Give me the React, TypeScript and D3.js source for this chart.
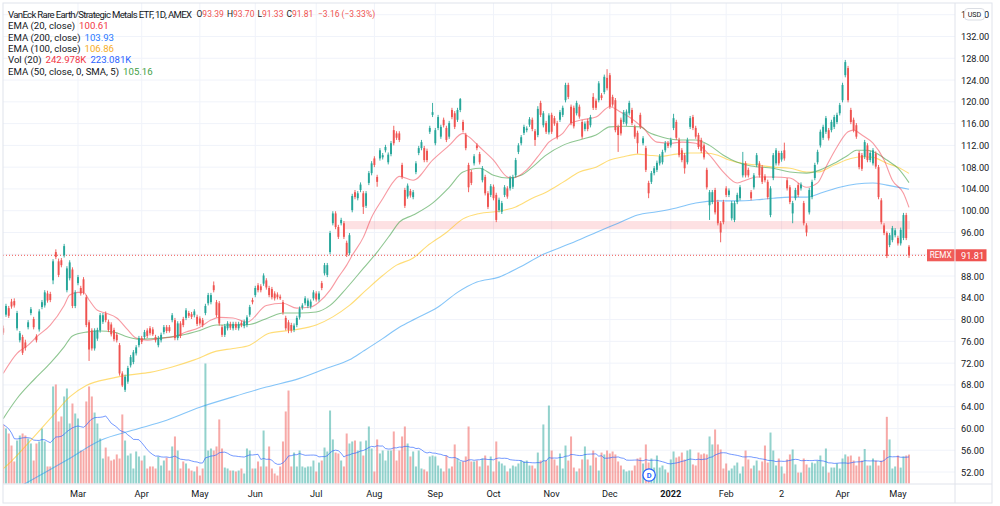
import React from "react";
import * as d3 from "d3";

// REMX daily bars, Jan 2021 – May 2022
const opens = [
  78.4, 80.9, 82.1, 83.3, 83.4, 78.4, 76.2, 76.8, 75.8, 78.6, 81.2, 80.1, 76.9, 78.2, 82.3, 82.6, 84.8, 84.7, 87.2, 92.4,
  90.7, 90.9, 91.8, 85.4, 87.6, 89.2, 82.5, 86.7, 85.8, 87.4, 84.1, 79.5, 78.0, 74.7, 76.5, 78.0, 79.6, 81.1, 79.6, 79.1,
  78.1, 77.2, 75.3, 70.1, 67.1, 68.6, 71.6, 72.2, 73.8, 75.3, 76.6, 76.8, 78.0, 78.4, 78.2, 76.8, 75.3, 76.2, 77.7, 78.6,
  78.6, 79.9, 79.9, 76.6, 79.3, 80.1, 80.3, 81.2, 81.0, 80.8, 80.5, 80.2, 79.9, 81.2, 83.0, 83.2, 86.3, 83.2, 83.0, 78.6,
  77.2, 78.4, 79.2, 78.4, 79.2, 78.4, 79.4, 78.8, 79.0, 80.9, 83.6, 84.5, 86.3, 86.1, 86.6, 87.2, 85.8, 85.6, 84.8, 84.6,
  84.2, 83.2, 80.3, 79.5, 79.0, 78.1, 79.0, 80.4, 82.2, 83.0, 82.5, 82.4, 83.9, 84.8, 83.7, 86.7, 88.5, 88.2, 92.4, 97.7,
  99.5, 97.0, 97.7, 97.7, 94.1, 92.2, 100.1, 103.4, 102.3, 103.8, 103.2, 100.9, 105.1, 106.9, 109.6, 106.2, 109.6, 109.8, 111.1, 108.9,
  110.4, 114.8, 114.2, 114.2, 108.4, 103.8, 102.6, 103.6, 102.5, 107.1, 110.6, 111.5, 111.5, 111.0, 114.5, 117.6, 112.4, 115.2, 113.6, 116.7,
  115.2, 113.6, 118.5, 117.9, 116.7, 118.5, 116.3, 113.9, 108.4, 107.1, 108.7, 112.0, 110.4, 105.6, 106.2, 103.2, 102.9, 104.4, 102.9, 100.1,
  99.8, 102.9, 104.1, 104.1, 104.4, 106.5, 110.8, 112.4, 114.3, 114.8, 115.8, 116.7, 114.6, 113.9, 119.8, 115.7, 116.1, 114.4, 117.6, 117.0,
  116.1, 116.7, 117.6, 120.3, 123.1, 119.1, 118.9, 117.9, 119.1, 116.3, 115.0, 116.5, 115.7, 120.9, 120.2, 120.3, 121.2, 121.8, 124.4, 124.9,
  120.9, 120.3, 115.4, 116.7, 116.3, 116.0, 117.9, 118.5, 115.4, 114.3, 117.6, 112.4, 111.5, 105.1, 105.3, 106.9, 107.5, 108.7, 108.9, 111.1,
  112.4, 112.0, 115.2, 116.3, 113.0, 111.1, 110.2, 108.9, 115.4, 117.2, 115.2, 113.9, 113.0, 112.0, 107.5, 101.0, 101.6, 103.8, 101.6, 97.7,
  101.6, 104.1, 102.9, 98.6, 98.3, 101.6, 102.3, 106.5, 108.7, 107.5, 103.4, 104.3, 108.4, 108.7, 108.0, 106.3, 105.3, 99.2, 106.0, 108.7,
  110.6, 109.4, 111.1, 105.6, 104.3, 99.5, 102.3, 104.7, 104.1, 101.4, 97.3, 99.7, 102.5, 106.0, 108.9, 112.0, 113.4, 114.5, 114.8, 114.8,
  115.4, 116.3, 117.9, 120.3, 124.9, 126.2, 118.5, 116.7, 115.7, 110.6, 110.2, 109.9, 112.0, 109.3, 108.7, 110.5, 108.0, 101.9, 97.3, 95.9,
  93.7, 94.6, 95.5, 95.0, 94.0, 95.0, 99.2, 93.39,
];
const highs = [
  78.9, 82.9, 82.5, 83.8, 83.9, 81.6, 77.9, 77.2, 76.3, 79.9, 82.3, 80.5, 77.3, 81.9, 83.6, 85.4, 85.3, 85.1, 91.1, 92.9,
  91.2, 91.3, 93.9, 89.8, 90.9, 89.6, 85.4, 88.2, 86.2, 87.8, 84.5, 79.9, 78.4, 78.4, 78.5, 81.2, 81.2, 81.5, 80.0, 79.5,
  78.5, 77.6, 75.7, 70.5, 69.9, 71.5, 73.5, 74.4, 75.3, 77.0, 77.0, 78.1, 78.4, 78.8, 78.6, 77.2, 77.0, 77.6, 79.0, 79.0,
  79.0, 81.2, 80.3, 79.7, 79.7, 80.5, 82.1, 81.6, 81.4, 81.9, 80.9, 80.6, 80.3, 82.9, 84.9, 84.9, 87.0, 83.6, 83.4, 79.0,
  79.2, 79.7, 79.6, 79.6, 79.6, 79.6, 79.8, 80.0, 80.8, 82.7, 84.0, 86.2, 86.7, 86.5, 88.5, 87.6, 86.2, 86.0, 85.2, 85.0,
  84.6, 83.6, 80.7, 79.9, 79.4, 79.3, 80.7, 82.4, 83.0, 84.3, 83.9, 83.7, 85.4, 85.2, 85.2, 87.1, 90.4, 90.4, 96.3, 99.9,
  99.9, 97.4, 98.7, 98.1, 94.5, 95.9, 103.1, 103.8, 103.6, 105.2, 103.6, 103.6, 107.3, 109.1, 110.0, 106.6, 111.5, 110.6, 112.1, 110.7,
  112.8, 115.6, 114.6, 114.6, 108.8, 104.2, 105.0, 104.0, 103.8, 109.1, 111.9, 113.0, 111.9, 111.4, 115.6, 119.8, 115.2, 117.6, 115.8, 117.1,
  115.6, 116.5, 118.9, 118.3, 118.9, 120.7, 116.7, 114.3, 108.8, 107.5, 110.4, 112.4, 110.8, 108.2, 106.6, 103.6, 104.9, 104.8, 103.3, 102.4,
  101.8, 104.7, 104.5, 106.4, 106.6, 109.7, 112.4, 113.9, 115.8, 115.5, 117.2, 117.1, 115.0, 119.2, 120.2, 118.3, 116.5, 117.9, 118.0, 117.4,
  116.5, 118.5, 119.3, 123.5, 123.5, 119.5, 119.3, 120.2, 119.5, 116.7, 116.4, 116.9, 117.6, 121.6, 120.6, 123.8, 121.6, 125.0, 126.0, 125.3,
  121.3, 120.7, 115.8, 117.1, 118.5, 118.6, 120.2, 118.9, 115.8, 114.7, 118.0, 113.7, 111.9, 105.5, 107.3, 108.2, 109.2, 110.4, 111.2, 112.8,
  112.8, 113.4, 117.8, 116.7, 113.4, 111.5, 110.6, 113.4, 117.4, 117.6, 115.6, 114.3, 113.4, 112.4, 107.9, 103.8, 103.8, 104.2, 102.0, 98.1,
  102.0, 104.5, 104.1, 101.8, 101.8, 103.3, 104.7, 110.8, 109.1, 107.9, 103.8, 106.9, 110.6, 109.1, 108.4, 106.7, 105.7, 104.5, 110.6, 111.5,
  111.0, 111.0, 112.5, 106.0, 104.7, 101.8, 104.2, 105.1, 105.2, 101.8, 97.7, 104.2, 105.7, 108.8, 111.2, 114.9, 115.8, 117.4, 115.2, 116.7,
  117.6, 118.0, 119.8, 123.5, 127.7, 126.6, 118.9, 117.1, 116.1, 111.0, 110.6, 113.0, 112.4, 111.0, 111.5, 110.9, 108.4, 102.3, 97.7, 96.2,
  95.9, 97.2, 96.8, 95.4, 96.9, 99.6, 99.6, 93.70,
];
const lows = [
  77.2, 80.5, 80.3, 82.0, 82.2, 78.0, 75.8, 73.5, 74.3, 78.2, 80.8, 78.2, 75.8, 77.8, 81.9, 82.2, 83.1, 83.2, 86.5, 91.1,
  87.8, 89.6, 91.4, 85.0, 87.2, 82.1, 82.1, 86.3, 84.4, 84.6, 78.6, 72.4, 74.3, 74.3, 76.1, 77.6, 79.2, 79.5, 77.7, 76.9,
  76.0, 75.8, 69.7, 67.6, 66.7, 68.2, 71.2, 71.8, 73.4, 74.9, 75.5, 76.4, 76.6, 77.1, 77.0, 75.8, 74.9, 75.8, 77.3, 77.5,
  77.6, 79.5, 76.2, 76.2, 76.6, 78.6, 79.9, 80.3, 80.1, 80.4, 78.8, 78.9, 78.6, 80.8, 82.6, 82.8, 85.0, 80.4, 78.9, 76.8,
  76.8, 78.0, 78.1, 78.0, 78.1, 78.0, 78.6, 78.4, 78.6, 80.5, 82.8, 84.1, 85.0, 85.0, 86.2, 85.5, 84.1, 83.7, 83.5, 83.7,
  83.6, 80.9, 78.0, 77.5, 77.6, 77.7, 78.6, 80.0, 81.8, 82.6, 82.1, 82.0, 83.5, 83.3, 83.3, 85.4, 88.1, 87.8, 92.0, 97.3,
  96.6, 94.8, 97.3, 94.8, 91.5, 91.8, 99.7, 102.1, 101.9, 103.4, 99.4, 100.5, 104.7, 106.5, 108.0, 104.4, 109.2, 109.4, 110.7, 108.5,
  110.0, 112.0, 113.0, 112.6, 105.8, 100.5, 102.2, 102.4, 102.1, 106.7, 110.2, 111.1, 108.9, 108.9, 114.1, 117.2, 112.0, 114.8, 113.2, 115.3,
  112.6, 113.2, 116.8, 115.0, 116.3, 118.1, 114.4, 111.1, 103.4, 104.7, 108.3, 111.1, 108.5, 105.2, 102.8, 100.3, 102.5, 101.9, 97.9, 99.7,
  99.4, 102.5, 102.2, 103.7, 104.0, 106.1, 110.4, 112.0, 113.9, 114.4, 115.4, 114.6, 111.9, 113.5, 117.2, 115.3, 114.1, 114.0, 114.1, 115.6,
  113.1, 116.3, 117.2, 119.9, 120.5, 115.7, 115.1, 117.5, 116.9, 113.2, 114.6, 114.6, 115.3, 118.5, 118.5, 119.9, 120.3, 121.4, 122.1, 118.7,
  119.1, 114.4, 110.8, 113.8, 115.9, 115.6, 117.5, 115.7, 113.2, 110.5, 115.0, 112.0, 107.1, 102.3, 104.9, 106.5, 107.1, 108.3, 108.5, 110.7,
  111.5, 111.6, 114.8, 113.0, 109.8, 108.9, 106.8, 108.5, 115.0, 114.8, 113.2, 111.3, 110.6, 109.4, 103.9, 98.3, 101.2, 99.3, 97.3, 94.2,
  97.5, 102.5, 102.5, 98.2, 97.9, 101.2, 101.9, 106.1, 106.1, 106.1, 101.9, 103.9, 108.0, 106.1, 104.9, 105.2, 102.1, 98.8, 105.6, 108.3,
  108.3, 109.0, 109.2, 103.7, 101.2, 97.7, 101.9, 102.5, 103.7, 97.3, 95.3, 99.3, 102.1, 105.6, 108.5, 111.6, 113.0, 114.1, 112.9, 114.4,
  115.0, 115.9, 117.5, 119.9, 124.5, 119.9, 115.9, 114.4, 113.2, 107.6, 107.3, 109.5, 108.9, 108.9, 108.3, 107.7, 102.1, 97.5, 95.5, 91.3,
  93.3, 94.2, 95.1, 93.6, 93.6, 94.6, 94.6, 91.33,
];
const closes = [
  77.6, 82.5, 80.7, 82.4, 82.6, 81.2, 77.5, 73.9, 74.8, 79.5, 81.9, 78.6, 76.2, 81.5, 83.2, 85.0, 83.5, 83.6, 90.7, 91.5,
  88.2, 90.0, 93.5, 89.4, 90.5, 82.5, 85.0, 87.8, 84.8, 85.0, 79.0, 74.5, 74.7, 78.0, 78.1, 80.8, 80.8, 79.9, 78.1, 77.3,
  76.4, 76.2, 70.1, 67.9, 69.5, 71.1, 73.1, 74.0, 74.9, 76.6, 75.9, 77.7, 77.0, 77.5, 77.3, 76.2, 76.6, 77.2, 78.6, 77.9,
  77.9, 80.8, 76.6, 79.3, 77.0, 79.0, 81.7, 80.7, 80.5, 81.5, 79.2, 79.3, 79.0, 82.5, 84.5, 84.5, 85.4, 80.8, 79.3, 77.2,
  78.8, 79.3, 78.5, 79.2, 78.5, 79.2, 79.0, 79.6, 80.4, 82.3, 83.2, 85.8, 85.4, 85.4, 88.1, 85.9, 84.5, 84.1, 83.9, 84.1,
  83.9, 81.3, 78.4, 78.1, 78.0, 78.9, 80.3, 82.0, 82.6, 83.9, 83.5, 83.3, 85.0, 83.7, 84.8, 85.8, 90.0, 90.0, 95.9, 99.5,
  97.0, 95.2, 98.3, 95.2, 91.9, 95.5, 102.7, 102.5, 103.2, 104.8, 100.7, 103.2, 106.9, 108.7, 108.4, 105.3, 111.1, 110.2, 111.7, 110.3,
  112.4, 112.4, 113.4, 113.0, 106.2, 100.9, 104.6, 102.8, 103.4, 108.7, 111.5, 112.6, 109.3, 109.3, 115.2, 118.1, 114.8, 117.2, 115.4, 115.7,
  113.0, 116.1, 117.2, 115.4, 118.5, 120.5, 114.8, 111.5, 104.3, 105.1, 110.0, 111.5, 108.9, 107.8, 103.2, 100.7, 104.5, 102.3, 98.3, 102.0,
  101.4, 104.3, 102.6, 106.0, 106.2, 109.3, 112.0, 113.5, 115.4, 115.1, 116.8, 115.0, 113.0, 118.7, 117.6, 117.9, 114.5, 117.5, 114.5, 116.0,
  113.5, 118.1, 118.9, 123.1, 120.9, 116.1, 115.5, 119.8, 117.3, 113.6, 116.0, 115.0, 117.2, 118.9, 118.9, 123.4, 120.7, 124.6, 122.5, 119.1,
  119.5, 114.8, 113.9, 114.2, 118.1, 118.2, 119.8, 116.1, 113.6, 112.4, 115.4, 113.3, 107.5, 103.2, 106.9, 107.8, 108.8, 110.0, 110.8, 112.4,
  111.9, 113.0, 117.0, 113.4, 110.2, 109.3, 107.8, 113.0, 117.0, 115.2, 113.6, 111.7, 111.0, 109.8, 104.3, 103.4, 103.4, 99.7, 97.7, 96.0,
  97.9, 102.9, 103.7, 101.4, 101.4, 102.9, 104.3, 108.7, 106.5, 106.5, 102.3, 106.5, 110.2, 106.5, 105.3, 105.6, 102.5, 104.1, 110.2, 111.1,
  108.7, 110.6, 109.6, 104.1, 101.6, 101.4, 103.8, 102.9, 104.8, 97.7, 96.0, 103.8, 105.3, 108.4, 110.8, 114.5, 115.4, 117.0, 113.3, 116.3,
  117.2, 117.6, 119.4, 123.1, 127.3, 120.3, 116.3, 114.8, 113.6, 108.0, 107.7, 112.6, 109.3, 110.6, 111.1, 108.1, 102.5, 97.9, 95.9, 91.7,
  95.5, 96.8, 96.4, 94.0, 96.5, 99.2, 94.97, 91.81,
];
// Daily volume, thousands of shares
const volumes = [
  496, 462, 420, 319, 185, 361, 403, 420, 403, 378, 336, 193, 336, 353, 462, 353, 143, 143, 815, 832,
  521, 563, 731, 798, 504, 672, 588, 546, 277, 277, 689, 815, 731, 596, 504, 378, 210, 302, 227, 193,
  202, 244, 210, 580, 361, 235, 252, 126, 269, 227, 193, 235, 126, 143, 143, 126, 227, 151, 193, 218,
  109, 311, 395, 277, 126, 185, 168, 126, 109, 101, 143, 67, 126, 1008, 277, 294, 277, 311, 538, 294,
  134, 126, 109, 109, 101, 109, 126, 84, 294, 277, 126, 126, 185, 143, 445, 143, 311, 126, 84, 67,
  143, 353, 605, 781, 143, 260, 143, 277, 143, 134, 143, 143, 193, 101, 176, 193, 302, 269, 613, 370,
  260, 252, 193, 143, 420, 336, 353, 361, 277, 353, 235, 361, 479, 294, 101, 370, 252, 277, 193, 277,
  277, 437, 193, 277, 395, 479, 336, 227, 269, 143, 277, 126, 118, 101, 227, 235, 227, 151, 126, 101,
  235, 126, 143, 328, 210, 185, 185, 227, 479, 185, 185, 193, 143, 210, 235, 151, 227, 101, 353, 185,
  168, 151, 101, 126, 151, 143, 168, 193, 185, 193, 151, 151, 126, 260, 193, 496, 193, 655, 277, 202,
  151, 252, 126, 319, 193, 395, 134, 101, 126, 202, 311, 202, 151, 277, 218, 109, 260, 244, 277, 252,
  269, 244, 185, 151, 118, 101, 109, 109, 151, 210, 218, 168, 328, 176, 210, 134, 235, 134, 151, 118,
  92, 202, 269, 218, 227, 260, 202, 277, 286, 160, 151, 260, 244, 252, 244, 395, 328, 454, 328, 286,
  126, 168, 109, 126, 151, 176, 84, 143, 277, 202, 126, 151, 193, 109, 185, 319, 176, 428, 277, 151,
  210, 143, 84, 202, 244, 286, 160, 92, 92, 210, 160, 134, 176, 168, 193, 235, 143, 294, 92, 134,
  134, 168, 126, 210, 244, 227, 235, 193, 151, 226, 193, 290, 151, 151, 210, 193, 151, 193, 280, 560,
  370, 126, 143, 235, 133.64, 227, 235, 242.978,
];

const priceTicks = [52, 56, 60, 64, 68, 72, 76, 80, 84, 88, 92, 96, 100, 104, 108, 112, 116, 120, 124, 128, 132, 136];
const timeTickBars = [27, 50, 71, 91, 113, 134, 156, 177, 198, 219, 241, 261, 281, 303, 323];
const timeTickLabels = ["Mar", "Apr", "May", "Jun", "Jul", "Aug", "Sep", "Oct", "Nov", "Dec", "2022", "Feb", "2", "Apr", "May"];

// Moving averages: [bar index, value]
const ema20: [number, number][] = [
  [0, 70.1], [5, 73.8], [9, 75.3], [12, 76.8], [17, 79], [22, 82.6], [24, 84.5], [27, 85], [29, 85], [31, 83.6],
  [34, 81.7], [37, 81.2], [41, 80.3], [45, 78.1], [48, 76.6], [52, 76.2], [57, 76.6], [61, 76.8], [66, 77.7], [71, 78.6],
  [75, 79.9], [78, 80.4], [83, 80.3], [88, 79.5], [95, 82.6], [101, 83], [106, 82.1], [111, 82.3], [114, 83.2], [118, 85.4],
  [121, 87.8], [124, 90], [126, 91.8], [130, 95.1], [133, 98.8], [137, 102.2], [141, 105.4], [143, 106.3], [148, 105.6], [155, 109.3],
  [161, 112], [166, 114.2], [168, 113.6], [172, 111.7], [177, 109.3], [182, 106.2], [184, 106], [189, 107.5], [194, 110.6], [197, 112.6],
  [202, 114.2], [205, 116.1], [209, 116.7], [214, 117.2], [219, 119.1], [223, 118.1], [226, 117.2], [231, 115.2], [236, 112.6], [241, 112.4],
  [245, 112.6], [250, 112.4], [255, 110.2], [260, 107.1], [265, 105.1], [268, 105.6], [272, 106.2], [278, 106.2], [284, 106], [290, 104.3],
  [294, 105.1], [297, 108], [301, 111.7], [305, 114.5], [307, 114.8], [310, 113.9], [314, 112.4], [318, 109.3], [321, 105.6], [325, 103.2],
  [327, 100.61],
];
const ema50sma5: [number, number][] = [
  [0, 61.8], [5, 65.5], [11, 68.9], [17, 72], [22, 75], [25, 77], [30, 77.7], [35, 77.9], [40, 77.7], [45, 76.8],
  [49, 76.4], [57, 76.6], [64, 77.1], [71, 78], [77, 79], [83, 79], [89, 79.1], [96, 80.4], [101, 81.2], [107, 81.2],
  [113, 81.4], [118, 82.6], [124, 85.8], [130, 89.4], [135, 92.4], [140, 95.8], [143, 97.9], [148, 99.2], [155, 101.4], [161, 104.3],
  [166, 107.1], [172, 107.8], [177, 106.5], [182, 106], [187, 106.5], [191, 108], [196, 110.2], [202, 112], [208, 113], [214, 113.9],
  [219, 115.4], [224, 115.5], [230, 115.4], [233, 114.4], [238, 113.5], [244, 113], [250, 113], [255, 112], [260, 110.2], [265, 108.9],
  [270, 108.2], [278, 107.8], [284, 107.1], [290, 106.9], [295, 107.5], [300, 108.7], [305, 110.2], [308, 111.1], [312, 111.1], [315, 110.6],
  [319, 109.3], [323, 107.8], [327, 105.16],
];
const ema100: [number, number][] = [
  [0, 52.6], [3, 54], [11, 58.4], [18, 62.4], [24, 65.8], [30, 67.9], [39, 69.2], [45, 69.8], [53, 70.3], [61, 71.3],
  [69, 72.6], [77, 74.2], [83, 74.7], [89, 75.3], [96, 77.5], [105, 78.1], [113, 79], [119, 80.5], [125, 82.6], [131, 85.4],
  [137, 88.1], [142, 90], [148, 91.3], [153, 93.5], [160, 96], [166, 98.5], [172, 99.5], [179, 99.9], [185, 100.7], [191, 102.3],
  [196, 103.4], [202, 105.2], [208, 107.1], [214, 108], [219, 109.3], [224, 109.9], [229, 110.4], [233, 110.2], [238, 110], [243, 110.4],
  [248, 110.6], [253, 110.6], [258, 110.2], [262, 109.3], [267, 108.7], [272, 108.4], [278, 108], [284, 107.8], [290, 107.1], [294, 107.1],
  [300, 108.4], [306, 109.6], [310, 109.9], [314, 109.8], [319, 108.7], [323, 108], [327, 106.86],
];
const ema200: [number, number][] = [
  [0, 47.7], [8, 49.9], [23, 54.2], [35, 57.8], [47, 59.7], [59, 61.5], [71, 63.9], [83, 65.8], [95, 67.6], [107, 69.2],
  [117, 71.1], [125, 72.6], [130, 74.2], [137, 76.5], [143, 78.6], [149, 80.2], [157, 82.3], [164, 85], [171, 86.9], [179, 87.8],
  [186, 89.5], [195, 92], [205, 94], [214, 96], [222, 97.7], [229, 99.2], [236, 99.8], [243, 100.5], [250, 101.4], [258, 101.8],
  [265, 101.8], [272, 102], [278, 102.3], [284, 102.5], [290, 102.5], [296, 103.4], [302, 104.3], [308, 104.9], [314, 105.1], [319, 104.7],
  [327, 103.93],
];

// Support zone drawn on the chart: [start bar, end bar], [low, high]
const zoneBars = [123, 327];
const zonePrices = [96.6, 98.1];
const dividendBar = 233;

const UP = "#26a69a";
const DOWN = "#ef5350";
const TEXT = "#131722";
const GRID = "#f0f3fa";
const BORDER = "#e0e3eb";
const FONT = "Roboto, 'Noto Sans', sans-serif";

export default function App() {
  const W = 1000;
  const H = 506;
  const left = 3, right = 955, top = 3, bottom = 484, outerR = 992, outerB = 503;
  const n = closes.length;
  const last = n - 1;

  const x = d3.scaleLinear().domain([0, last]).range([3.2, 909]);
  const y = d3.scaleLinear().domain([52, 132]).range([472, 36.5]);
  const yVol = d3.scaleLinear().domain([0, d3.max(volumes) as number]).range([483.5, 363.5]);

  const volMA = volumes.map((_, i) => d3.mean(volumes.slice(Math.max(0, i - 19), i + 1)) as number);

  const maLine = d3
    .line<[number, number]>()
    .x((d) => x(d[0]))
    .y((d) => y(d[1]))
    .curve(d3.curveMonotoneX);
  const volLine = d3
    .line<number>()
    .x((_, i) => x(i))
    .y((d) => yVol(d));

  const fmt2 = d3.format(".2f");
  const lastClose = closes[last];
  const chg = lastClose - closes[last - 1];
  const pct = (chg / closes[last - 1]) * 100;
  const sign = (v: number) => (v < 0 ? "\u2212" : "+") + fmt2(Math.abs(v));
  const lastColor = lastClose >= opens[last] ? UP : DOWN;
  const fmtK = (v: number) => d3.format(".3f")(v) + "K";

  const bodyW = 1.9;
  const legendY = (k: number) => 14 + k * 11.3;
  const fs = 9.6;
  const ohlcFs = 8.5;
  const axisFs = 9.2;

  const legendRows = [
    { label: "EMA (20, close)", values: [{ v: fmt2(ema20[ema20.length - 1][1]), c: "#f23645" }] },
    { label: "EMA (200, close)", values: [{ v: fmt2(ema200[ema200.length - 1][1]), c: "#2979ff" }] },
    { label: "EMA (100, close)", values: [{ v: fmt2(ema100[ema100.length - 1][1]), c: "#f5ac1f" }] },
    {
      label: "Vol (20)",
      values: [
        { v: fmtK(volumes[last]), c: "#f23645" },
        { v: fmtK(volMA[last]), c: "#2962ff" },
      ],
    },
    { label: "EMA (50, close, 0, SMA, 5)", values: [{ v: fmt2(ema50sma5[ema50sma5.length - 1][1]), c: "#43a047" }] },
  ];

  // header: OHLC fields laid out at fixed slots after the title
  const ohlc = [
    { k: "O", v: fmt2(opens[last]), x: 196.5 },
    { k: "H", v: fmt2(highs[last]), x: 227 },
    { k: "L", v: fmt2(lows[last]), x: 257.5 },
    { k: "C", v: fmt2(lastClose), x: 286.5 },
  ];

  const lastY = y(lastClose);

  return (
    <svg
      width={W}
      height={H}
      viewBox={`0 0 ${W} ${H}`}
      style={{ position: "absolute", left: 0, top: 0, background: "#fff", fontFamily: FONT }}
    >
      <defs>
        <clipPath id="plotClip">
          <rect x={left} y={top} width={right - left} height={bottom - top} />
        </clipPath>
        <clipPath id="axisClip">
          <rect x={right} y={top} width={outerR - right} height={bottom - top} />
        </clipPath>
      </defs>
      <rect x={0} y={0} width={W} height={H} fill="#fff" />

      {/* grid */}
      <g>
        {priceTicks.map((p) => (
          y(p) > top && y(p) < bottom ? (
            <line key={"h" + p} x1={left} x2={right} y1={y(p)} y2={y(p)} stroke={GRID} strokeWidth={1} />
          ) : null
        ))}
        {timeTickBars.map((b) => (
          <line key={"v" + b} x1={x(b)} x2={x(b)} y1={top} y2={bottom} stroke={GRID} strokeWidth={1} />
        ))}
      </g>

      <g clipPath="url(#plotClip)">
        {/* volume */}
        {volumes.map((v, i) => (
          <rect
            key={"vol" + i}
            x={x(i) - 1}
            y={yVol(v)}
            width={2}
            height={yVol(0) - yVol(v)}
            fill={closes[i] >= opens[i] ? UP : DOWN}
            fillOpacity={0.5}
          />
        ))}
        <path d={volLine(volMA) || ""} fill="none" stroke="#2962ff" strokeOpacity={0.65} strokeWidth={1} />

        {/* support zone */}
        <rect
          x={x(zoneBars[0])}
          y={y(zonePrices[1])}
          width={x(zoneBars[1]) - x(zoneBars[0]) + 1}
          height={y(zonePrices[0]) - y(zonePrices[1])}
          fill="#f23645"
          fillOpacity={0.15}
        />

        {/* moving averages */}
        <path d={maLine(ema200) || ""} fill="none" stroke="#2196f3" strokeOpacity={0.55} strokeWidth={1.1} />
        <path d={maLine(ema100) || ""} fill="none" stroke="#ffc107" strokeOpacity={0.55} strokeWidth={1.1} />
        <path d={maLine(ema50sma5) || ""} fill="none" stroke="#43a047" strokeOpacity={0.6} strokeWidth={1.1} />
        <path d={maLine(ema20) || ""} fill="none" stroke="#f23645" strokeOpacity={0.5} strokeWidth={1.1} />

        {/* last price line */}
        <line x1={left} x2={927} y1={lastY} y2={lastY} stroke={DOWN} strokeWidth={1} strokeDasharray="1 2" />

        {/* candles */}
        {closes.map((c, i) => {
          const o = opens[i];
          const col = c >= o ? UP : DOWN;
          const yt = y(Math.max(o, c));
          const yb = y(Math.min(o, c));
          return (
            <g key={"c" + i}>
              <line x1={x(i)} x2={x(i)} y1={y(highs[i])} y2={y(lows[i])} stroke={col} strokeWidth={0.9} />
              <rect x={x(i) - bodyW / 2} y={yt} width={bodyW} height={Math.max(0.8, yb - yt)} fill={col} />
            </g>
          );
        })}

        {/* dividend marker */}
        <g transform={`translate(${x(dividendBar) + 0.5},475)`}>
          <circle r={6.2} fill="#fff" stroke="#2962ff" strokeWidth={1.3} />
          <text textAnchor="middle" dominantBaseline="central" fontSize={7.5} fontWeight={700} fill="#2962ff" y={0.3}>
            D
          </text>
        </g>
      </g>

      {/* frame */}
      <rect x={left} y={top} width={outerR - left} height={outerB - top} fill="none" stroke={BORDER} strokeWidth={1} />
      <line x1={right} x2={right} y1={top} y2={outerB} stroke={BORDER} strokeWidth={1} />
      <line x1={left} x2={outerR} y1={bottom} y2={bottom} stroke={BORDER} strokeWidth={1} />

      {/* price axis (top label sits under the currency badge) */}
      <g fontSize={axisFs} fill={TEXT} clipPath="url(#axisClip)">
        {priceTicks.map((p) =>
          y(p) > 8 && y(p) < bottom && Math.abs(y(p) - lastY) > 7 ? (
            <text key={"pl" + p} x={961} y={y(p)} dominantBaseline="central">
              {fmt2(p)}
            </text>
          ) : null
        )}
      </g>
      <rect x={964.5} y={8.5} width={20} height={11.5} rx={3.5} fill="#fff" stroke="#d1d4dc" strokeWidth={0.8} />
      <text x={974.5} y={14.4} textAnchor="middle" dominantBaseline="central" fontSize={7.2} fill={TEXT}>
        USD
      </text>

      {/* last price tags */}
      <rect x={927} y={lastY - 6} width={27.5} height={12} fill={lastColor} fillOpacity={0.95} />
      <text x={940.7} y={lastY} textAnchor="middle" dominantBaseline="central" fontSize={8.2} fill="#fff">
        REMX
      </text>
      <rect x={955.5} y={lastY - 6} width={31} height={12} fill={lastColor} />
      <text x={961} y={lastY} dominantBaseline="central" fontSize={axisFs} fill="#fff">
        {fmt2(lastClose)}
      </text>

      {/* time axis */}
      <g fontSize={axisFs} fill={TEXT}>
        {timeTickBars.map((b, k) => (
          <text
            key={"tl" + k}
            x={x(b)}
            y={493.5}
            textAnchor="middle"
            dominantBaseline="central"
            fontWeight={timeTickLabels[k] === "2022" ? 700 : 400}
          >
            {timeTickLabels[k]}
          </text>
        ))}
      </g>

      {/* legend */}
      <g fontSize={fs} fill={TEXT}>
        <text x={8} y={legendY(0)} dominantBaseline="central" textLength={184} lengthAdjust="spacing">
          VanEck Rare Earth/Strategic Metals ETF, 1D, AMEX
        </text>
        {ohlc.map((f) => (
          <text key={f.k} x={f.x} y={legendY(0)} dominantBaseline="central" fontSize={ohlcFs}>
            <tspan>{f.k}</tspan>
            <tspan fill={lastColor}>{f.v}</tspan>
          </text>
        ))}
        <text x={318} y={legendY(0)} dominantBaseline="central" fill={lastColor} fontSize={ohlcFs}>
          {sign(chg)} ({sign(pct)}%)
        </text>
        {legendRows.map((r, k) => (
          <text key={"lg" + k} x={8} y={legendY(k + 1)} dominantBaseline="central">
            <tspan>{r.label}</tspan>
            {r.values.map((v, j) => (
              <tspan key={j} dx={4} fill={v.c}>
                {v.v}
              </tspan>
            ))}
          </text>
        ))}
      </g>
    </svg>
  );
}
